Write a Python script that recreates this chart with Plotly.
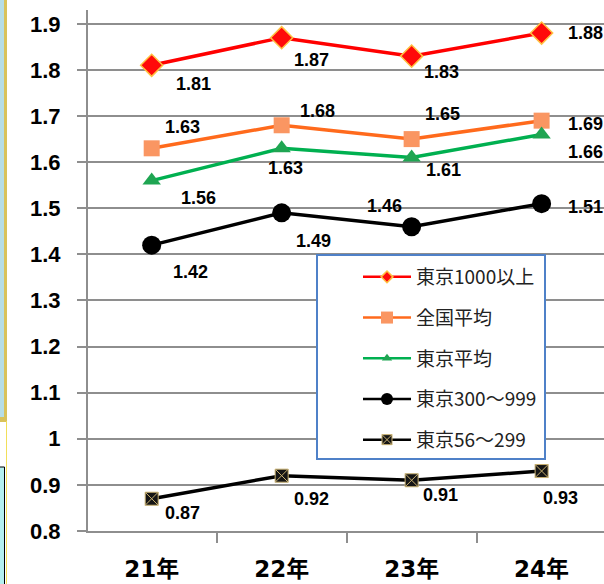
import plotly.graph_objects as go

# Fiscal years on the category axis
years = ["21年", "22年", "23年", "24年"]

# Series values
tokyo_1000 = [1.81, 1.87, 1.83, 1.88]
national_avg = [1.63, 1.68, 1.65, 1.69]
tokyo_avg = [1.56, 1.63, 1.61, 1.66]
tokyo_300 = [1.42, 1.49, 1.46, 1.51]
tokyo_56 = [0.87, 0.92, 0.91, 0.93]

series_names = ["東京1000以上", "全国平均", "東京平均", "東京300～999", "東京56～299"]

# Value-axis ticks
y_ticks = [0.8, 0.9, 1.0, 1.1, 1.2, 1.3, 1.4, 1.5, 1.6, 1.7, 1.8, 1.9]
y_tick_text = ["0.8", "0.9", "1", "1.1", "1.2", "1.3", "1.4", "1.5", "1.6", "1.7", "1.8", "1.9"]

W, H = 604, 584
ML, MR, MT, MB = 88, 0, 10, 53
PW, PH = W - ML - MR, H - MT - MB


def px_x(p):
    return (p - ML) / PW


def px_y(p):
    return (H - MB - p) / PH


styles = [
    dict(line=dict(color="#ff0000", width=3.5),
         marker=dict(symbol="diamond", size=17, color="#ff0a0a",
                     line=dict(color="#ffc040", width=1.5))),
    dict(line=dict(color="#ff6a1c", width=3.5),
         marker=dict(symbol="square", size=16, color="#fa9662",
                     line=dict(color="#fa9662", width=0))),
    dict(line=dict(color="#00b050", width=3.5),
         marker=dict(symbol="triangle-up", size=16, color="#1fa552",
                     line=dict(color="#1fa552", width=0))),
    dict(line=dict(color="#000000", width=3.5),
         marker=dict(symbol="circle", size=19, color="#000000",
                     line=dict(color="#000000", width=0))),
    dict(line=dict(color="#000000", width=3.5),
         marker=dict(symbol="square-x", size=13, color="#151515",
                     line=dict(color="#c8b070", width=1))),
]

# Smaller symbols used in the legend keys
legend_marker_sizes = [9, 12, 9, 12, 10]

# Label offsets (px, right/down) for each value label
label_offsets = [
    [(42, 19), (30, 22), (30, 16), (44, 0)],
    [(31, -21), (36, -14), (31, -25), (44, 3)],
    [(47, 17), (4, 20), (32, 12), (44, 18)],
    [(39, 27), (32, 28), (-27, -21), (44, 3)],
    [(31, 14), (30, 23), (29, 15), (19, 27)],
]

all_series = [tokyo_1000, national_avg, tokyo_avg, tokyo_300, tokyo_56]

fig = go.Figure()
for i, (name, vals, st) in enumerate(zip(series_names, all_series, styles)):
    fig.add_trace(go.Scatter(
        x=years, y=vals, name=name, mode="lines+markers",
        line=st["line"], marker=st["marker"], legendgroup=f"g{i}",
        showlegend=False, cliponaxis=False,
    ))

# Legend keys with compact symbols
for i, (name, st, ms) in enumerate(zip(series_names, styles, legend_marker_sizes)):
    mk = dict(st["marker"])
    mk["size"] = ms
    fig.add_trace(go.Scatter(
        x=[None], y=[None], name=name, mode="lines+markers",
        line=dict(color=st["line"]["color"], width=2.5), marker=mk,
        legendgroup=f"g{i}", showlegend=True,
    ))

annotations = []
for vals, offs in zip(all_series, label_offsets):
    for yr, v, (dx, dy) in zip(years, vals, offs):
        annotations.append(dict(
            x=yr, y=v, xref="x", yref="y", text=f"{v:.2f}", showarrow=False,
            xshift=dx, yshift=-dy,
            font=dict(family="Liberation Sans, Arial", size=18, color="#000000",
                      weight="bold"),
        ))

shapes = [
    # legend frame
    dict(type="rect", xref="paper", yref="paper",
         x0=px_x(317), x1=px_x(545), y0=px_y(459), y1=px_y(255),
         fillcolor="#ffffff", line=dict(color="#4f81c8", width=2), layer="above"),
    # slide edge decorations on the left
    dict(type="rect", xref="paper", yref="paper",
         x0=px_x(0), x1=px_x(4), y0=px_y(419), y1=px_y(0),
         fillcolor="#b6dde6", line=dict(width=0)),
    dict(type="rect", xref="paper", yref="paper",
         x0=px_x(4), x1=px_x(7), y0=px_y(421), y1=px_y(0),
         fillcolor="#d9c25a", line=dict(width=0)),
    dict(type="rect", xref="paper", yref="paper",
         x0=px_x(0), x1=px_x(7), y0=px_y(422), y1=px_y(417),
         fillcolor="#d9c25a", line=dict(width=0)),
    dict(type="line", xref="paper", yref="paper",
         x0=px_x(6.5), x1=px_x(6.5), y0=px_y(584), y1=px_y(421),
         line=dict(color="#f2df5a", width=1)),
    dict(type="rect", xref="paper", yref="paper",
         x0=px_x(-2), x1=px_x(4.5), y0=px_y(590), y1=px_y(467),
         fillcolor="#b4f0f0", line=dict(color="#000000", width=1)),
]

grid_col = "#8e8e8e"
fig.update_layout(
    width=W, height=H,
    margin=dict(l=ML, r=MR, t=MT, b=MB, pad=0),
    paper_bgcolor="#ffffff", plot_bgcolor="#ffffff",
    showlegend=True,
    legend=dict(
        x=px_x(322), y=px_y(258), xanchor="left", yanchor="top",
        bgcolor="rgba(0,0,0,0)", borderwidth=0,
        font=dict(family="Noto Sans CJK JP", size=19, color="#222222"),
        tracegroupgap=13, indentation=36, itemwidth=48,
    ),
    xaxis=dict(
        type="category", range=[-0.49, 3.48],
        showgrid=False, showline=True, linecolor=grid_col, linewidth=2,
        ticks="outside", tickson="boundaries", ticklen=10, tickwidth=2,
        tickcolor=grid_col, ticklabelstandoff=16,
        tickfont=dict(family="DejaVu Sans, Noto Sans CJK JP", size=23,
                      color="#000000", weight="bold"),
    ),
    yaxis=dict(
        range=[0.8, 1.93], tickvals=y_ticks, ticktext=y_tick_text,
        showgrid=True, gridcolor=grid_col, gridwidth=2, zeroline=False,
        showline=True, linecolor=grid_col, linewidth=2,
        ticks="outside", ticklen=9, tickwidth=2, tickcolor=grid_col,
        ticklabelstandoff=12,
        tickfont=dict(family="Liberation Sans, Arial", size=22, color="#000000",
                      weight="bold"),
    ),
    annotations=annotations,
    shapes=shapes,
)

fig.write_html("out.html")
